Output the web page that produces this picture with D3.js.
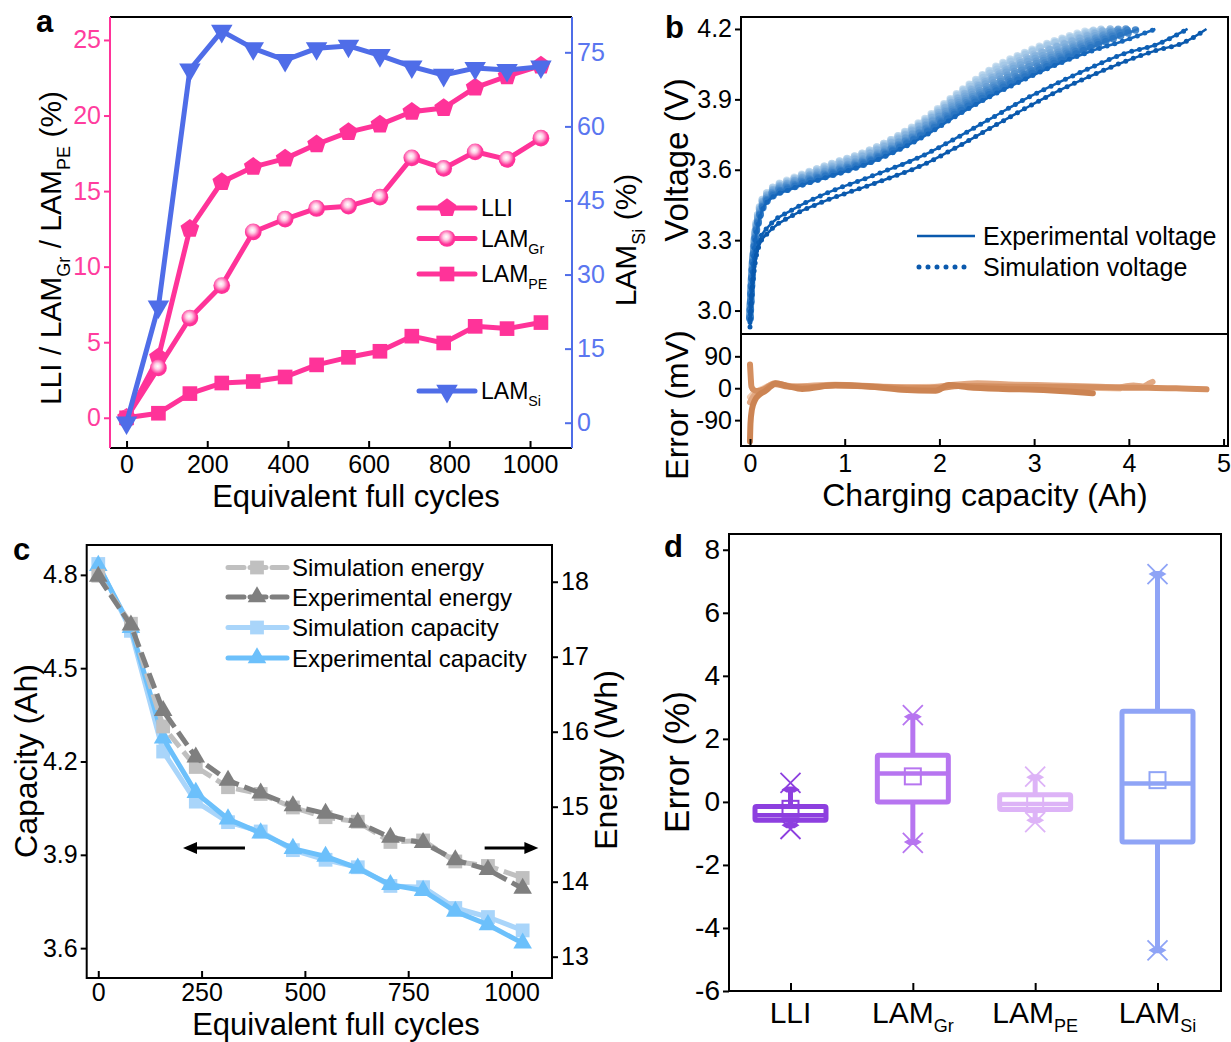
<!DOCTYPE html>
<html><head><meta charset="utf-8">
<script src="https://cdn.jsdelivr.net/npm/d3@7"></script>
<style>
body{margin:0;background:#fff;}
svg{display:block;}
text{white-space:pre;}
</style>
</head><body>
<svg id="chart" width="1231" height="1042"></svg>
<script>
// ================= DATA =================
// Panel a
const cycles = [0, 79, 157, 236, 314, 393, 471, 550, 628, 707, 786, 864, 943, 1027];
const lliPct   = [0, 4.0, 12.5, 15.6, 16.6, 17.15, 18.1, 18.9, 19.4, 20.25, 20.5, 21.85, 22.6, 23.3];
const lamGrPct = [0, 3.3, 6.6, 8.75, 12.3, 13.15, 13.85, 14.0, 14.6, 17.2, 16.5, 17.6, 17.1, 18.5];
const lamPePct = [0, 0.3, 1.6, 2.3, 2.4, 2.7, 3.5, 4.0, 4.4, 5.4, 4.95, 6.05, 5.9, 6.3];
const lamSiPct = [0, 23.5, 71.5, 79.3, 75.8, 73.4, 75.8, 76.3, 74.4, 72.1, 70.4, 71.8, 71.4, 72.1];
const cycleTicksA = [0, 200, 400, 600, 800, 1000];
const pctTicksLeft = [0, 5, 10, 15, 20, 25];
const pctTicksRight = [0, 15, 30, 45, 60, 75];

// Panel b
const voltKnotsQ = [0, 0.02, 0.05, 0.1, 0.2, 0.45, 0.75, 1.3, 1.85, 2.2, 2.55, 2.9, 3.25];
const voltAtKnots = [
  [2.93, 3.07, 3.19, 3.28, 3.335, 3.405, 3.46, 3.54, 3.625, 3.70, 3.78, 3.86, 3.935],
  [2.95, 3.09, 3.21, 3.30, 3.36, 3.43, 3.49, 3.575, 3.665, 3.74, 3.82, 3.90, 3.97],
  [2.96, 3.13, 3.28, 3.39, 3.47, 3.52, 3.56, 3.635, 3.745, 3.835, 3.915, 3.985, 4.05],
  [2.965, 3.135, 3.285, 3.395, 3.475, 3.525, 3.565, 3.64, 3.755, 3.845, 3.925, 3.995, 4.06],
  [2.97, 3.14, 3.29, 3.40, 3.48, 3.53, 3.57, 3.645, 3.76, 3.855, 3.935, 4.005, 4.07],
  [2.97, 3.14, 3.29, 3.405, 3.485, 3.535, 3.575, 3.65, 3.77, 3.865, 3.945, 4.015, 4.08],
  [2.975, 3.145, 3.295, 3.41, 3.49, 3.54, 3.58, 3.655, 3.775, 3.875, 3.955, 4.03, 4.09],
  [2.98, 3.15, 3.30, 3.415, 3.49, 3.545, 3.585, 3.66, 3.785, 3.885, 3.965, 4.04, 4.10],
  [2.985, 3.15, 3.305, 3.42, 3.495, 3.55, 3.59, 3.665, 3.79, 3.895, 3.98, 4.055, 4.11],
  [2.99, 3.155, 3.31, 3.425, 3.50, 3.55, 3.595, 3.675, 3.80, 3.905, 3.99, 4.065, 4.125],
  [2.99, 3.16, 3.31, 3.43, 3.50, 3.555, 3.60, 3.68, 3.805, 3.91, 4.0, 4.075, 4.13],
  [2.995, 3.165, 3.315, 3.435, 3.505, 3.56, 3.605, 3.685, 3.81, 3.92, 4.015, 4.09, 4.145],
  [3.0, 3.17, 3.32, 3.44, 3.51, 3.56, 3.61, 3.69, 3.815, 3.925, 4.025, 4.095, 4.15],
  [3.0, 3.17, 3.32, 3.44, 3.51, 3.565, 3.61, 3.69, 3.82, 3.93, 4.03, 4.10, 4.155]
];
const voltTails = [
  [[3.6, 4.0], [3.95, 4.06], [4.3, 4.11], [4.57, 4.14], [4.82, 4.2]],
  [[3.6, 4.035], [3.95, 4.095], [4.3, 4.135], [4.62, 4.2]],
  [[3.6, 4.105], [3.95, 4.15], [4.28, 4.2]],
  [[3.6, 4.12], [4.10, 4.2]],
  [[3.6, 4.13], [4.015, 4.2]],
  [[3.6, 4.14], [3.97, 4.2]],
  [[3.6, 4.15], [3.92, 4.2]],
  [[3.6, 4.155], [3.895, 4.2]],
  [[3.6, 4.165], [3.857, 4.2]],
  [[3.6, 4.175], [3.804, 4.2]],
  [[3.6, 4.18], [3.785, 4.2]],
  [[3.718, 4.2]],
  [[3.675, 4.2]],
  [[3.616, 4.2]]
];
const errorLastCycle  = [[0,-150],[0.005,-100],[0.02,-60],[0.05,-35],[0.1,-18],[0.16,-8],[0.22,5],[0.27,14],[0.4,6],[0.55,-2],[0.9,9],[1.25,5],[1.6,-4],[1.96,-7],[2.1,9],[2.3,3],[2.67,-2],[3.02,-4],[3.37,-9],[3.62,-14]];
const errorFirstCycle = [[0,67],[0.008,30],[0.015,5],[0.04,-5],[0.08,-8],[0.15,-3],[0.26,12],[0.4,5],[0.6,3],[0.9,8],[1.3,5],[1.7,0],[2.0,1],[2.2,6],[2.6,5],[3.0,4],[3.4,3],[3.8,2],[4.2,1],[4.5,0],[4.82,-3]];
const errorThirdCycle = [[0,-40],[0.03,-25],[0.08,-12],[0.15,-2],[0.26,14],[0.45,5],[0.9,10],[1.4,4],[1.9,2],[2.1,8],[2.4,14],[2.8,10],[3.2,8],[3.6,5],[3.9,3],[4.05,8],[4.15,5],[4.22,14],[4.25,18]];
const errorMidCycle   = [[0,-25],[0.05,-12],[0.12,-3],[0.26,11],[0.5,4],[0.9,8],[1.5,3],[2.0,4],[2.4,10],[3.0,6],[3.5,2],[3.9,-1]];
const voltTicks = [3.0, 3.3, 3.6, 3.9, 4.2];
const errMvTicks = [-90, 0, 90];
const capTicksB = [0, 1, 2, 3, 4, 5];

// Panel c
const expCapacity = [4.83, 4.63, 4.275, 4.10, 4.015, 3.97, 3.92, 3.895, 3.857, 3.804, 3.785, 3.718, 3.675, 3.616];
const simCapacity = [4.835, 4.62, 4.232, 4.071, 4.005, 3.975, 3.915, 3.884, 3.86, 3.80, 3.796, 3.729, 3.70, 3.657];
const expEnergy   = [18.07, 17.42, 16.28, 15.66, 15.35, 15.18, 15.01, 14.91, 14.79, 14.59, 14.52, 14.29, 14.16, 13.91];
const simEnergy   = [18.08, 17.44, 16.07, 15.53, 15.26, 15.17, 14.99, 14.86, 14.80, 14.53, 14.55, 14.27, 14.21, 14.05];
const cycleTicksC = [0, 250, 500, 750, 1000];
const capacityTicks = [3.6, 3.9, 4.2, 4.5, 4.8];
const energyTicks = [13, 14, 15, 16, 17, 18];

// Panel d
const boxCats    = ["LLI", "LAM_Gr", "LAM_PE", "LAM_Si"];
const boxQ1      = [-0.58, 0.0, -0.24, -1.27];
const boxQ3      = [-0.15, 1.48, 0.23, 2.88];
const boxMedian  = [-0.42, 0.9, -0.07, 0.58];
const boxMean    = [-0.22, 0.81, -0.07, 0.69];
const whiskerLow = [-0.74, -1.27, -0.58, -4.71];
const whiskerHigh= [0.39, 2.7, 0.78, 7.23];
const extremeLow = [-0.86, -1.3, -0.64, -4.71];
const extremeHigh= [0.6, 2.75, 0.8, 7.23];
const errPctTicks = [-6, -4, -2, 0, 2, 4, 6, 8];

// ================= HELPERS =================
const FF = '"Liberation Sans", Arial, Helvetica, sans-serif';
const svg = d3.select("#chart").attr("font-family", FF);
const plain = d => String(d);
const oneDec = d => d.toFixed(1);

function richText(g, x, y, parts, fs, opts = {}) {
  const t = g.append("text").attr("x", x).attr("y", y)
    .attr("font-size", fs).attr("font-family", FF)
    .attr("fill", opts.fill || "#000");
  if (opts.anchor) t.attr("text-anchor", opts.anchor);
  if (opts.rotate) t.attr("transform", `rotate(-90 ${x} ${y})`);
  if (opts.weight) t.attr("font-weight", opts.weight);
  const sfs = fs * (opts.subScale || 0.6), shift = fs * (opts.subShift || 0.3);
  let down = false;
  parts.forEach(p => {
    const isSub = p.startsWith("_");
    const s = isSub ? p.slice(1) : p;
    const ts = t.append("tspan").text(s);
    if (isSub) { ts.attr("font-size", sfs); if (!down) { ts.attr("dy", shift); down = true; } }
    else if (down) { ts.attr("dy", -shift); down = false; }
  });
  return t;
}
function labelParts(name) {
  const p = name.split("_");
  return p.length > 1 ? [p[0], "_" + p[1]] : [p[0]];
}
function styleAxis(g, fs, color) {
  g.attr("font-size", fs).attr("font-family", FF);
  g.select(".domain").remove();
  g.selectAll(".tick line").attr("stroke", color).attr("stroke-width", 2);
  g.selectAll(".tick text").attr("fill", color);
}
const symbolPentagon = {
  draw(ctx, size) {
    const r = Math.sqrt(size / (2.5 * Math.sin(2 * Math.PI / 5)));
    for (let i = 0; i < 5; i++) {
      const a = -Math.PI / 2 + i * 2 * Math.PI / 5;
      const px = r * Math.cos(a), py = r * Math.sin(a);
      if (i === 0) ctx.moveTo(px, py); else ctx.lineTo(px, py);
    }
    ctx.closePath();
  }
};

const defs = svg.append("defs");
const grad = defs.append("radialGradient").attr("id", "gloss")
  .attr("cx", "45%").attr("cy", "40%").attr("r", "60%");
grad.append("stop").attr("offset", "0%").attr("stop-color", "#ffffff");
grad.append("stop").attr("offset", "30%").attr("stop-color", "#ffd0e6");
grad.append("stop").attr("offset", "75%").attr("stop-color", "#ff3399");
grad.append("stop").attr("offset", "100%").attr("stop-color", "#ff3399");

// ================= PANEL A =================
(function () {
  const PINK = "#ff3399", PINKTXT = "#ff3d9e", BLUE = "#4f6de8", BLUETXT = "#5a76f0";
  const g = svg.append("g");
  const x = d3.scaleLinear().domain([-41, 1104]).range([110, 572]);
  const yL = d3.scaleLinear().domain([-2.0, 26.52]).range([448, 17]);
  const yR = d3.scaleLinear().domain([-5.12, 82.15]).range([448, 17]);

  const ax = g.append("g").attr("transform", "translate(0,448)")
    .call(d3.axisBottom(x).tickValues(cycleTicksA).tickFormat(plain).tickSize(-7).tickPadding(7));
  styleAxis(ax, 25, "#000");
  const al = g.append("g").attr("transform", "translate(110,0)")
    .call(d3.axisLeft(yL).tickValues(pctTicksLeft).tickFormat(plain).tickSize(6).tickPadding(3));
  styleAxis(al, 25, PINK); al.selectAll(".tick text").attr("fill", PINKTXT);
  const ar = g.append("g").attr("transform", "translate(572,0)")
    .call(d3.axisRight(yR).tickValues(pctTicksRight).tickFormat(plain).tickSize(-7).tickPadding(5));
  styleAxis(ar, 25, BLUE); ar.selectAll(".tick text").attr("fill", BLUETXT);

  g.append("line").attr("x1", 110).attr("x2", 572).attr("y1", 17).attr("y2", 17).attr("stroke", "#000").attr("stroke-width", 2);
  g.append("line").attr("x1", 110).attr("x2", 572).attr("y1", 448).attr("y2", 448).attr("stroke", "#000").attr("stroke-width", 2);
  g.append("line").attr("x1", 110).attr("x2", 110).attr("y1", 17).attr("y2", 448).attr("stroke", PINK).attr("stroke-width", 2);
  g.append("line").attr("x1", 572).attr("x2", 572).attr("y1", 17).attr("y2", 448).attr("stroke", BLUE).attr("stroke-width", 2);

  const pinkSeries = [
    { vals: lliPct, sym: symbolPentagon, size: 230, fill: PINK },
    { vals: lamGrPct, sym: d3.symbolCircle, size: 220, fill: "url(#gloss)" },
    { vals: lamPePct, sym: d3.symbolSquare, size: 215, fill: PINK }
  ];
  pinkSeries.forEach(s => {
    g.append("path").datum(s.vals)
      .attr("d", d3.line().x((d, i) => x(cycles[i])).y(d => yL(d)))
      .attr("fill", "none").attr("stroke", PINK).attr("stroke-width", 5).attr("stroke-linejoin", "round");
  });
  pinkSeries.forEach(s => {
    g.selectAll(null).data(s.vals).join("path")
      .attr("transform", (d, i) => `translate(${x(cycles[i])},${yL(d)})`)
      .attr("d", d3.symbol(s.sym, s.size)).attr("fill", s.fill);
  });
  g.append("path").datum(lamSiPct)
    .attr("d", d3.line().x((d, i) => x(cycles[i])).y(d => yR(d)))
    .attr("fill", "none").attr("stroke", BLUE).attr("stroke-width", 5).attr("stroke-linejoin", "round");
  g.selectAll(null).data(lamSiPct).join("path")
    .attr("transform", (d, i) => `translate(${x(cycles[i])},${yR(d)}) rotate(180)`)
    .attr("d", d3.symbol(d3.symbolTriangle, 200)).attr("fill", BLUE);

  const leg = [
    { y: 208, parts: ["LLI"], sym: symbolPentagon, size: 230, fill: PINK, stroke: PINK, rot: 0 },
    { y: 238.5, parts: ["LAM", "_Gr"], sym: d3.symbolCircle, size: 220, fill: "url(#gloss)", stroke: PINK, rot: 0 },
    { y: 274, parts: ["LAM", "_PE"], sym: d3.symbolSquare, size: 215, fill: PINK, stroke: PINK, rot: 0 },
    { y: 391, parts: ["LAM", "_Si"], sym: d3.symbolTriangle, size: 200, fill: BLUE, stroke: BLUE, rot: 180 }
  ];
  leg.forEach(l => {
    g.append("line").attr("x1", 419).attr("x2", 475).attr("y1", l.y).attr("y2", l.y)
      .attr("stroke", l.stroke).attr("stroke-width", 5).attr("stroke-linecap", "round");
    g.append("path").attr("transform", `translate(447,${l.y}) rotate(${l.rot})`)
      .attr("d", d3.symbol(l.sym, l.size)).attr("fill", l.fill);
    richText(g, 481, l.y + 8, l.parts, 23, { subScale: 0.62, subShift: 0.32 });
  });

  richText(g, 356, 507, ["Equivalent full cycles"], 31, { anchor: "middle" });
  richText(g, 61, 248, ["LLI / LAM", "_Gr", " / LAM", "_PE", " (%)"], 30, { anchor: "middle", rotate: true, subScale: 0.6, subShift: 0.3 });
  richText(g, 636, 240, ["LAM", "_Si", " (%)"], 30, { anchor: "middle", rotate: true, subScale: 0.6, subShift: 0.3 });
  richText(g, 36, 32, ["a"], 31, { weight: "bold" });
})();

// ================= PANEL B =================
(function () {
  const g = svg.append("g");
  const x = d3.scaleLinear().domain([-0.095, 5.047]).range([741, 1228]);
  const yV = d3.scaleLinear().domain([2.9, 4.251]).range([334, 17]);
  const yE = d3.scaleLinear().domain([-163, 153]).range([446, 334]);

  defs.append("clipPath").attr("id", "clipV").append("rect").attr("x", 742).attr("y", 18).attr("width", 485).attr("height", 315);
  defs.append("clipPath").attr("id", "clipE").append("rect").attr("x", 742).attr("y", 335).attr("width", 485).attr("height", 110);

  const n = voltAtKnots.length;
  const colorOf = i => i < 3 ? ["#0a59ad", "#0d5fb4", "#1667bb"][i]
    : d3.interpolateRgb("#2a76c2", "#c4dcef")((i - 3) / (n - 4));
  const curves = voltAtKnots.map((vals, c) => voltKnotsQ.map((q, k) => [q, vals[k]]).concat(voltTails[c]));
  const line = d3.line().x(d => x(d[0])).y(d => yV(d[1])).curve(d3.curveMonotoneX);
  const gv = g.append("g").attr("clip-path", "url(#clipV)");
  d3.range(n).reverse().forEach(c => {
    gv.append("path").datum(curves[c]).attr("d", line)
      .attr("fill", "none").attr("stroke", colorOf(c)).attr("stroke-width", 2.5);
    gv.append("path").datum(curves[c]).attr("d", line)
      .attr("fill", "none").attr("stroke", colorOf(c)).attr("stroke-width", c < 3 ? 5 : 7.5)
      .attr("stroke-linecap", "round").attr("stroke-dasharray", "0 8").attr("opacity", c < 3 ? 1 : 0.85);
  });

  const eline = d3.line().x(d => x(d[0])).y(d => yE(d[1])).curve(d3.curveMonotoneX);
  const ge = g.append("g").attr("clip-path", "url(#clipE)");
  [[errorMidCycle, "#f2cdb2"], [errorThirdCycle, "#e2a882"], [errorFirstCycle, "#d48f60"], [errorLastCycle, "#cc8453"]].forEach(([d, col]) => {
    ge.append("path").datum(d).attr("d", eline).attr("fill", "none")
      .attr("stroke", col).attr("stroke-width", 6).attr("stroke-linecap", "round").attr("stroke-linejoin", "round");
  });

  const ax = g.append("g").attr("transform", "translate(0,446)")
    .call(d3.axisBottom(x).tickValues(capTicksB).tickFormat(plain).tickSize(-7).tickPadding(8));
  styleAxis(ax, 25, "#000");
  const av = g.append("g").attr("transform", "translate(741,0)")
    .call(d3.axisLeft(yV).tickValues(voltTicks).tickFormat(oneDec).tickSize(6).tickPadding(3));
  styleAxis(av, 25, "#000");
  const ae = g.append("g").attr("transform", "translate(741,0)")
    .call(d3.axisLeft(yE).tickValues(errMvTicks).tickFormat(plain).tickSize(6).tickPadding(3));
  styleAxis(ae, 25, "#000");

  g.append("rect").attr("x", 741).attr("y", 17).attr("width", 487).attr("height", 429)
    .attr("fill", "none").attr("stroke", "#000").attr("stroke-width", 2);
  g.append("line").attr("x1", 741).attr("x2", 1228).attr("y1", 334).attr("y2", 334).attr("stroke", "#000").attr("stroke-width", 2);

  g.append("line").attr("x1", 917).attr("x2", 975).attr("y1", 236).attr("y2", 236).attr("stroke", "#0a59ad").attr("stroke-width", 2.5);
  g.append("line").attr("x1", 919).attr("x2", 972).attr("y1", 267).attr("y2", 267).attr("stroke", "#0a59ad")
    .attr("stroke-width", 5).attr("stroke-linecap", "round").attr("stroke-dasharray", "0 9");
  richText(g, 983, 245, ["Experimental voltage"], 25);
  richText(g, 983, 276, ["Simulation voltage"], 25);

  richText(g, 985, 506, ["Charging capacity (Ah)"], 32, { anchor: "middle" });
  richText(g, 688, 160, ["Voltage (V)"], 33, { anchor: "middle", rotate: true });
  richText(g, 688, 405, ["Error (mV)"], 32, { anchor: "middle", rotate: true });
  richText(g, 665, 38, ["b"], 31, { weight: "bold" });
})();

// ================= PANEL C =================
(function () {
  const g = svg.append("g");
  const x = d3.scaleLinear().domain([-28, 1098]).range([86.7, 552]);
  const yL = d3.scaleLinear().domain([3.504, 4.896]).range([978, 545]);
  const yR = d3.scaleLinear().domain([12.716, 18.49]).range([978, 545]);

  const ax = g.append("g").attr("transform", "translate(0,978)")
    .call(d3.axisBottom(x).tickValues(cycleTicksC).tickFormat(plain).tickSize(-7).tickPadding(5));
  styleAxis(ax, 25, "#000");
  const al = g.append("g").attr("transform", "translate(86.7,0)")
    .call(d3.axisLeft(yL).tickValues(capacityTicks).tickFormat(oneDec).tickSize(6).tickPadding(3));
  styleAxis(al, 25, "#000");
  const ar = g.append("g").attr("transform", "translate(552,0)")
    .call(d3.axisRight(yR).tickValues(energyTicks).tickFormat(plain).tickSize(6).tickPadding(3));
  styleAxis(ar, 25, "#000");
  g.append("rect").attr("x", 86.7).attr("y", 545).attr("width", 465.3).attr("height", 433)
    .attr("fill", "none").attr("stroke", "#000").attr("stroke-width", 2);

  const series = [
    { vals: simCapacity, y: yL, color: "#a9d5fa", dash: null, sym: d3.symbolSquare, size: 190 },
    { vals: expCapacity, y: yL, color: "#6cc0fb", dash: null, sym: d3.symbolTriangle, size: 150 },
    { vals: simEnergy, y: yR, color: "#c0c0c0", dash: "16 6", sym: d3.symbolSquare, size: 190 },
    { vals: expEnergy, y: yR, color: "#7f7f7f", dash: "16 6", sym: d3.symbolTriangle, size: 150 }
  ];
  series.forEach(s => {
    g.append("path").datum(s.vals)
      .attr("d", d3.line().x((d, i) => x(cycles[i])).y(d => s.y(d)))
      .attr("fill", "none").attr("stroke", s.color).attr("stroke-width", 5)
      .attr("stroke-dasharray", s.dash).attr("stroke-linejoin", "round");
    g.selectAll(null).data(s.vals).join("path")
      .attr("transform", (d, i) => `translate(${x(cycles[i])},${s.y(d)})`)
      .attr("d", d3.symbol(s.sym, s.size)).attr("fill", s.color);
  });

  const ay = yL(3.922);
  const arrow = (x1, x2) => {
    const dir = Math.sign(x2 - x1);
    g.append("line").attr("x1", x1).attr("x2", x2 - dir * 10).attr("y1", ay).attr("y2", ay)
      .attr("stroke", "#000").attr("stroke-width", 3);
    g.append("path").attr("d", `M${x2},${ay} L${x2 - dir * 14},${ay - 6} L${x2 - dir * 14},${ay + 6} Z`).attr("fill", "#000");
  };
  arrow(x(355), x(205));
  arrow(x(935), x(1065));

  const leg = [
    { y: 567.5, txt: "Simulation energy", color: "#c0c0c0", dash: "16 6", sym: d3.symbolSquare, size: 190 },
    { y: 597, txt: "Experimental energy", color: "#7f7f7f", dash: "16 6", sym: d3.symbolTriangle, size: 150 },
    { y: 627.5, txt: "Simulation capacity", color: "#a9d5fa", dash: null, sym: d3.symbolSquare, size: 190 },
    { y: 658, txt: "Experimental capacity", color: "#6cc0fb", dash: null, sym: d3.symbolTriangle, size: 150 }
  ];
  leg.forEach(l => {
    g.append("line").attr("x1", 228).attr("x2", 287).attr("y1", l.y).attr("y2", l.y)
      .attr("stroke", l.color).attr("stroke-width", 5).attr("stroke-linecap", "round").attr("stroke-dasharray", l.dash);
    g.append("path").attr("transform", `translate(257,${l.y})`).attr("d", d3.symbol(l.sym, l.size)).attr("fill", l.color);
    richText(g, 292, l.y + 8.5, [l.txt], 24);
  });

  richText(g, 336, 1035, ["Equivalent full cycles"], 31, { anchor: "middle" });
  richText(g, 37, 761, ["Capacity (Ah)"], 32, { anchor: "middle", rotate: true });
  richText(g, 617, 760, ["Energy (Wh)"], 32, { anchor: "middle", rotate: true });
  richText(g, 13, 560, ["c"], 31, { weight: "bold" });
})();

// ================= PANEL D =================
(function () {
  const g = svg.append("g");
  const x = d3.scalePoint().domain(boxCats).range([790.5, 1157.5]);
  const y = d3.scaleLinear().domain([-6, 8.5]).range([991, 534]);
  const colors = ["#8d3fdf", "#b775f0", "#ddb3f7", "#8fa4f6"];
  const BW = 71;

  const ay = g.append("g").attr("transform", "translate(729,0)")
    .call(d3.axisLeft(y).tickValues(errPctTicks).tickFormat(plain).tickSize(6).tickPadding(3));
  styleAxis(ay, 28, "#000");
  const ax = g.append("g").attr("transform", "translate(0,991)")
    .call(d3.axisBottom(x).tickSize(-8).tickFormat(""));
  styleAxis(ax, 28, "#000");
  g.append("rect").attr("x", 729).attr("y", 534).attr("width", 492).attr("height", 457)
    .attr("fill", "none").attr("stroke", "#000").attr("stroke-width", 2);

  boxCats.forEach((c, i) => {
    const cx = x(c), col = colors[i];
    g.append("line").attr("x1", cx).attr("x2", cx).attr("y1", y(boxQ3[i])).attr("y2", y(whiskerHigh[i]))
      .attr("stroke", col).attr("stroke-width", 5);
    g.append("line").attr("x1", cx).attr("x2", cx).attr("y1", y(boxQ1[i])).attr("y2", y(whiskerLow[i]))
      .attr("stroke", col).attr("stroke-width", 5);
    [whiskerHigh[i], whiskerLow[i]].forEach(v => {
      g.append("path").attr("d", `M${cx - 9},${y(v)} L${cx - 4},${y(v) - 3} L${cx + 4},${y(v) - 3} L${cx + 9},${y(v)} L${cx + 4},${y(v) + 3} L${cx - 4},${y(v) + 3} Z`)
        .attr("fill", col);
    });
    g.append("rect").attr("x", cx - BW / 2).attr("y", y(boxQ3[i])).attr("width", BW)
      .attr("height", y(boxQ1[i]) - y(boxQ3[i])).attr("fill", "#fff")
      .attr("stroke", col).attr("stroke-width", 5).attr("rx", 1.5);
    g.append("line").attr("x1", cx - BW / 2).attr("x2", cx + BW / 2).attr("y1", y(boxMedian[i])).attr("y2", y(boxMedian[i]))
      .attr("stroke", col).attr("stroke-width", 4.5);
    g.append("rect").attr("x", cx - 8).attr("y", y(boxMean[i]) - 8).attr("width", 16).attr("height", 16)
      .attr("fill", "none").attr("stroke", col).attr("stroke-width", 2);
    [extremeHigh[i], extremeLow[i]].forEach(v => {
      g.append("path").attr("d", `M${cx - 10},${y(v) - 10} L${cx + 10},${y(v) + 10} M${cx - 10},${y(v) + 10} L${cx + 10},${y(v) - 10}`)
        .attr("stroke", col).attr("stroke-width", 1.8);
    });
    richText(g, cx, 1023, labelParts(c), 30, { anchor: "middle", subScale: 0.6, subShift: 0.3 });
  });

  richText(g, 689, 762, ["Error (%)"], 35, { anchor: "middle", rotate: true });
  richText(g, 664, 557, ["d"], 31, { weight: "bold" });
})();
</script>
</body></html>
